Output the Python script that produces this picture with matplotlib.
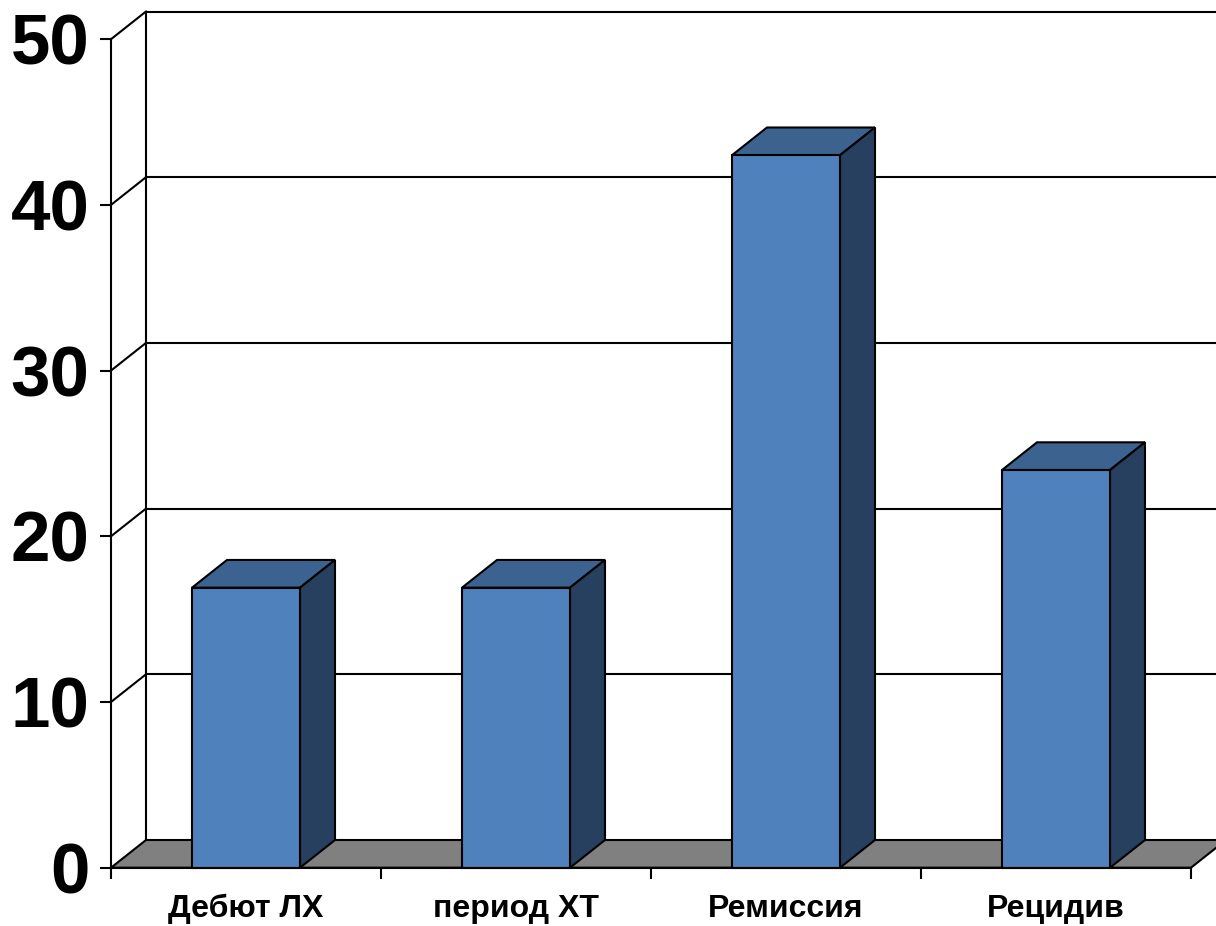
import matplotlib.pyplot as plt
from matplotlib.patches import Polygon

plt.rcParams['font.family'] = ['Liberation Sans', 'DejaVu Sans']

categories = ['Дебют ЛХ', 'период ХТ', 'Ремиссия', 'Рецидив']
values = [16.9, 16.9, 43.0, 24.0]
y_ticks = [0, 10, 20, 30, 40, 50]

front_col = '#4F81BD'
top_col = '#3C6290'
side_col = '#274060'
floor_col = '#808080'

# pseudo-3D depth offset, in data units (x: categories, y: values)
ddx = 35 / 270
ddy = 27.7 / 16.57
bar_w = 0.4
lw = 1.5

fig = plt.figure(figsize=(12.16, 9.26), dpi=100)
ax = fig.add_axes([0, 0, 1, 1])
ax.set_xlim(-111 / 270, (1216 - 111) / 270)
ax.set_ylim(-(926 - 867.7) / 16.57, 867.7 / 16.57)

n = len(categories)
xmax = n + ddx

# back wall: vertical edge and horizontal gridlines
ax.plot([ddx, ddx], [ddy, y_ticks[-1] + ddy], color='black', lw=lw, zorder=1)
for v in y_ticks[1:]:
    ax.plot([ddx, xmax], [v + ddy, v + ddy], color='black', lw=lw, zorder=1)
    # side wall diagonals
    ax.plot([0, ddx], [v, v + ddy], color='black', lw=lw, zorder=1)

# floor
floor = Polygon([(0, 0), (n, 0), (n + ddx, ddy), (ddx, ddy)], closed=True,
                facecolor=floor_col, edgecolor='black', lw=lw, zorder=2)
ax.add_patch(floor)

# bars
xs = [i + 0.5 for i in range(n)]
ax.bar(xs, values, width=bar_w, color=front_col, edgecolor='black', lw=lw, zorder=4)
for x, v in zip(xs, values):
    x0, x1 = x - bar_w / 2, x + bar_w / 2
    top = Polygon([(x0, v), (x1, v), (x1 + ddx, v + ddy), (x0 + ddx, v + ddy)],
                  closed=True, facecolor=top_col, edgecolor='black', lw=lw, zorder=3)
    side = Polygon([(x1, 0), (x1 + ddx, ddy), (x1 + ddx, v + ddy), (x1, v)],
                   closed=True, facecolor=side_col, edgecolor='black', lw=lw, zorder=3)
    ax.add_patch(top)
    ax.add_patch(side)

# axes
for s in ['top', 'right']:
    ax.spines[s].set_visible(False)
ax.spines['left'].set_position(('data', 0))
ax.spines['left'].set_bounds(0, 50)
ax.spines['bottom'].set_position(('data', 0))
ax.spines['bottom'].set_bounds(0, n)
for s in ['left', 'bottom']:
    ax.spines[s].set_linewidth(lw)
    ax.spines[s].set_zorder(5)

ax.set_yticks(y_ticks)
ax.set_yticklabels([str(t) for t in y_ticks], fontsize=51, fontweight='bold')
ax.tick_params(axis='y', direction='out', length=8, width=lw, pad=7.4)

ax.set_xticks(range(n + 1))
ax.set_xticklabels([''] * (n + 1))
ax.set_xticks(xs, minor=True)
ax.set_xticklabels(categories, minor=True, fontsize=23, fontweight='bold')
ax.tick_params(axis='x', which='major', direction='out', length=8, width=lw)
ax.tick_params(axis='x', which='minor', length=0, pad=19)

fig.savefig('out.png', dpi=100)
